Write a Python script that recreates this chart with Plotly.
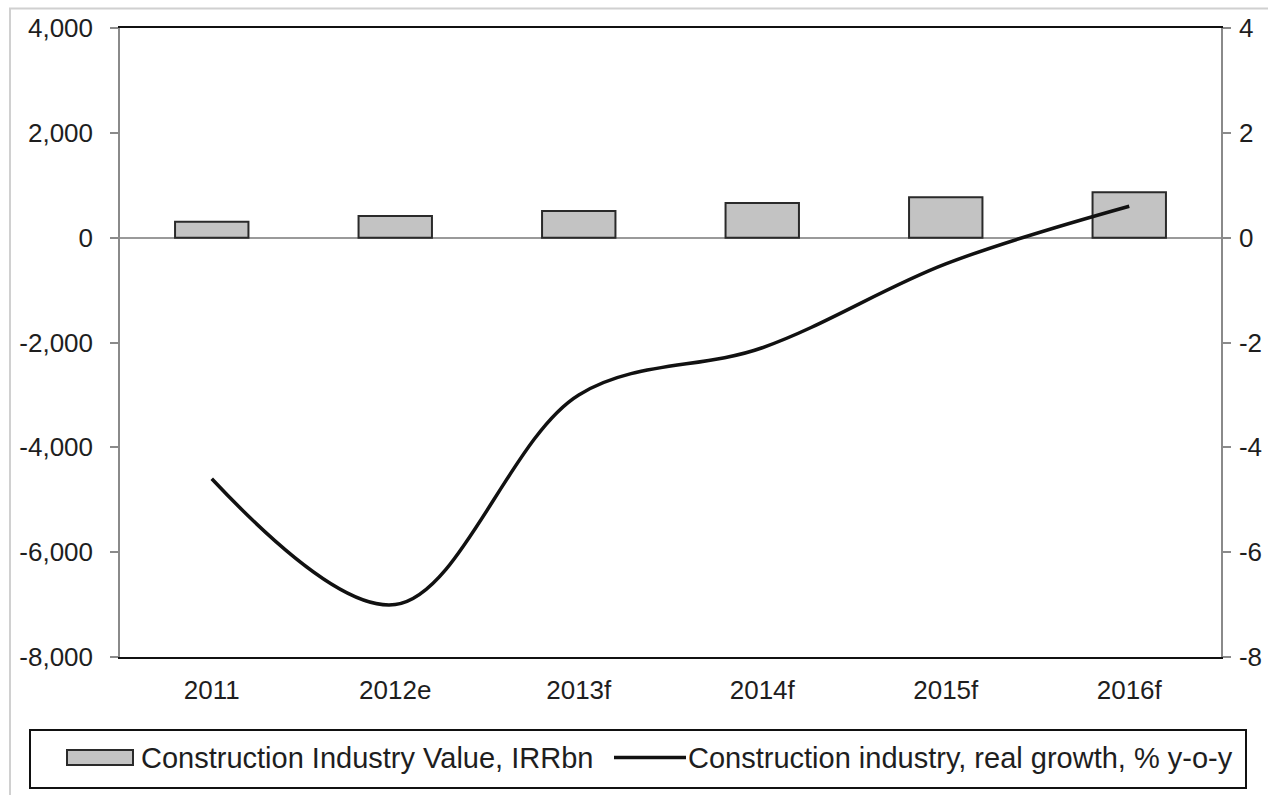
import plotly.graph_objects as go

categories = ["2011", "2012e", "2013f", "2014f", "2015f", "2016f"]
industry_value = [305, 415, 510, 660, 770, 865]
real_growth = [-4.6, -7.0, -3.0, -2.1, -0.5, 0.6]
left_ticks = [-8000, -6000, -4000, -2000, 0, 2000, 4000]
left_tick_labels = ["-8,000", "-6,000", "-4,000", "-2,000", "0", "2,000", "4,000"]
right_ticks = [-8, -6, -4, -2, 0, 2, 4]
right_tick_labels = ["-8", "-6", "-4", "-2", "0", "2", "4"]
bar_name = "Construction Industry Value, IRRbn"
line_name = "Construction industry, real growth, % y-o-y"

W, H = 1268, 795
L, R, T, B = 120, 1221, 27.5, 657
FONT = "Liberation Sans, Arial, sans-serif"
TXT = "#1e1e1e"


def px(x):
    return (x - L) / (R - L)


def py(y):
    return (B - y) / (B - T)


fig = go.Figure()
fig.add_trace(go.Bar(
    x=categories, y=industry_value, name=bar_name, width=0.4,
    marker=dict(color="#c3c3c3", line=dict(color="#2a2a2a", width=2)),
    showlegend=False, yaxis="y",
))
fig.add_trace(go.Scatter(
    x=categories, y=real_growth, name=line_name, mode="lines",
    line=dict(color="#111111", width=3.5, shape="spline", smoothing=1.0),
    showlegend=False, yaxis="y2",
))

shapes = [
    # outer chart border
    dict(type="rect", xref="paper", yref="paper", x0=px(10), x1=px(1280),
         y0=py(810), y1=py(8), line=dict(color="#d0d0d0", width=2), layer="below"),
    # legend box
    dict(type="rect", xref="paper", yref="paper", x0=px(30), x1=px(1246),
         y0=py(788), y1=py(730), line=dict(color="#111111", width=2)),
    # legend symbols
    dict(type="rect", xref="paper", yref="paper", x0=px(67), x1=px(133),
         y0=py(765), y1=py(750), fillcolor="#c3c3c3",
         line=dict(color="#2a2a2a", width=2)),
    dict(type="line", xref="paper", yref="paper", x0=px(614), x1=px(686),
         y0=py(757.5), y1=py(757.5), line=dict(color="#111111", width=3.5)),
]
annotations = [
    dict(text=bar_name, xref="paper", yref="paper", x=px(139), y=py(758),
         xanchor="left", yanchor="middle", showarrow=False,
         font=dict(family=FONT, size=29, color=TXT)),
    dict(text=line_name, xref="paper", yref="paper", x=px(686), y=py(758),
         xanchor="left", yanchor="middle", showarrow=False,
         font=dict(family=FONT, size=29, color=TXT)),
]

fig.update_layout(
    width=W, height=H,
    margin=dict(l=L, r=W - R, t=T, b=H - B, pad=0),
    paper_bgcolor="white", plot_bgcolor="white",
    font=dict(family=FONT, size=26, color=TXT),
    shapes=shapes, annotations=annotations,
    xaxis=dict(type="category", showgrid=False, showline=True, linecolor="#111111",
               linewidth=2, mirror=True, ticks="", ticklabelstandoff=9,
               tickfont=dict(size=26, color=TXT), range=[-0.5, 5.5], automargin=False),
    yaxis=dict(range=[-8000, 4000], tickvals=left_ticks, ticktext=left_tick_labels,
               showgrid=False, zeroline=True, zerolinecolor="#9a9a9a", zerolinewidth=2,
               showline=True, linecolor="#8a8a8a", linewidth=1.5,
               ticks="outside", ticklen=8, tickcolor="#8a8a8a", tickwidth=1.5,
               ticklabelstandoff=12, tickfont=dict(size=26, color=TXT), automargin=False),
    yaxis2=dict(range=[-8, 4], tickvals=right_ticks, ticktext=right_tick_labels,
                overlaying="y", side="right",
                showgrid=False, zeroline=False,
                showline=True, linecolor="#8a8a8a", linewidth=1.5,
                ticks="outside", ticklen=8, tickcolor="#8a8a8a", tickwidth=1.5,
                ticklabelstandoff=3, tickfont=dict(size=26, color=TXT), automargin=False),
)

fig.write_html("out.html", config={"displayModeBar": False},
               post_script="document.body.style.margin='0';document.body.style.overflow='hidden';")
